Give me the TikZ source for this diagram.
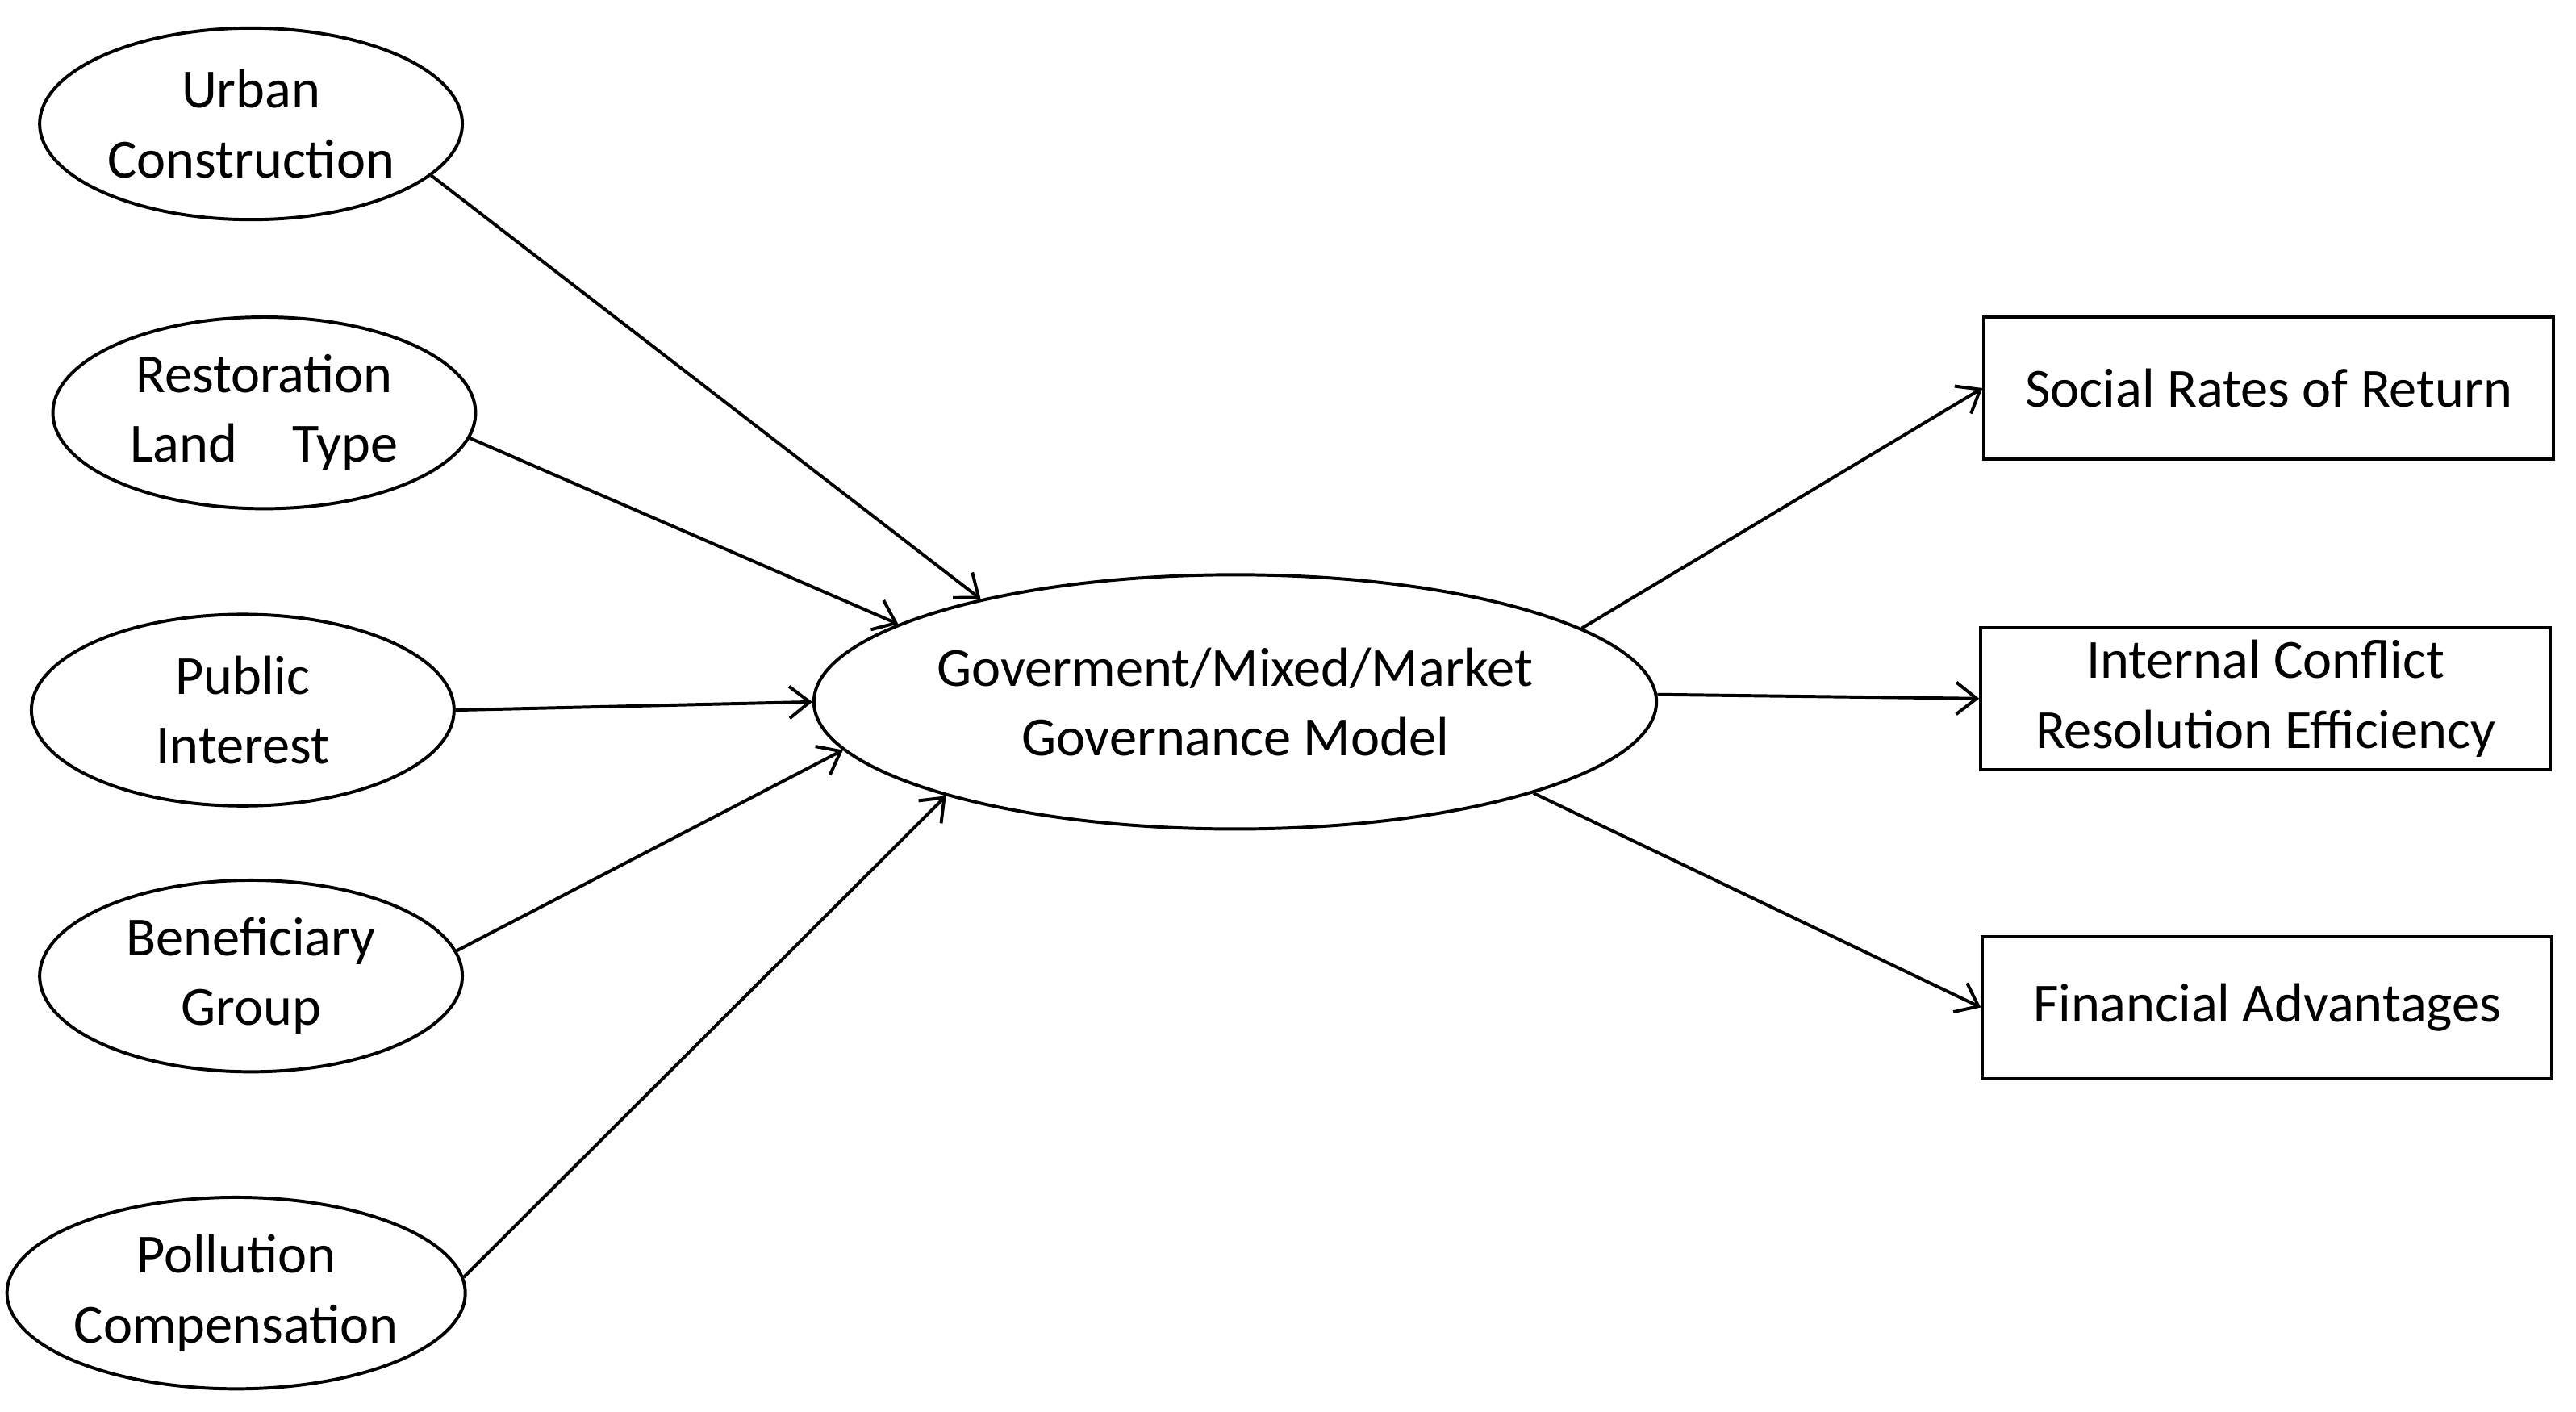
\documentclass[tikz,border=0pt]{standalone}
\usepackage{fontspec}
\setmainfont{Carlito}
\usetikzlibrary{shapes.geometric,arrows.meta}
\begin{document}
\begin{tikzpicture}[x=0.02cm,y=-0.02cm,
  every node/.style={font=\fontsize{19}{24}\selectfont, align=center, inner sep=0pt},
  ell/.style={ellipse, draw, line width=1.1pt, minimum width=5.12cm, minimum height=2.32cm},
  box/.style={rectangle, draw, line width=1.1pt, minimum width=6.9cm, minimum height=1.72cm},
  arr/.style={line width=1.1pt, -{Straight Barb[length=7pt,width=11pt]}}]
\useasboundingbox (0,0) rectangle (1560,855);
\node[ell] (uc) at (152,75) {Urban\\Construction};
\node[ell] (rl) at (160,250) {Restoration\\Land\quad Type};
\node[ell] (pi) at (147,430) {Public\\Interest};
\node[ell] (bg) at (152,591) {Beneficiary\\Group};
\node[ell] (pc) at (143,783) {Pollution\\Compensation};
\node[ellipse, draw, line width=1.1pt, minimum width=8.12cm, minimum height=3.08cm] (gm) at (748,425) {Goverment/Mixed/Market\\Governance Model};
\node[box] (sr) at (1374,235) {Social Rates of Return};
\node[box] (ic) at (1372,423) {Internal Conflict\\Resolution Efficiency};
\node[box] (fa) at (1373,610) {Financial Advantages};
\draw[arr] (uc.-16) -- (gm.158.5);
\draw[arr] (rl.-7) -- (gm.167);
\draw[arr] (pi.0) -- (gm.180);
\draw[arr] (bg.7) -- (gm.187.6);
\draw[arr] (pc.4.5) -- (gm.198);
\draw[arr] (gm.12.3) -- (sr.west);
\draw[arr] (gm.1) -- (ic.west);
\draw[arr] (gm.-17) -- (fa.west);
\end{tikzpicture}
\end{document}
